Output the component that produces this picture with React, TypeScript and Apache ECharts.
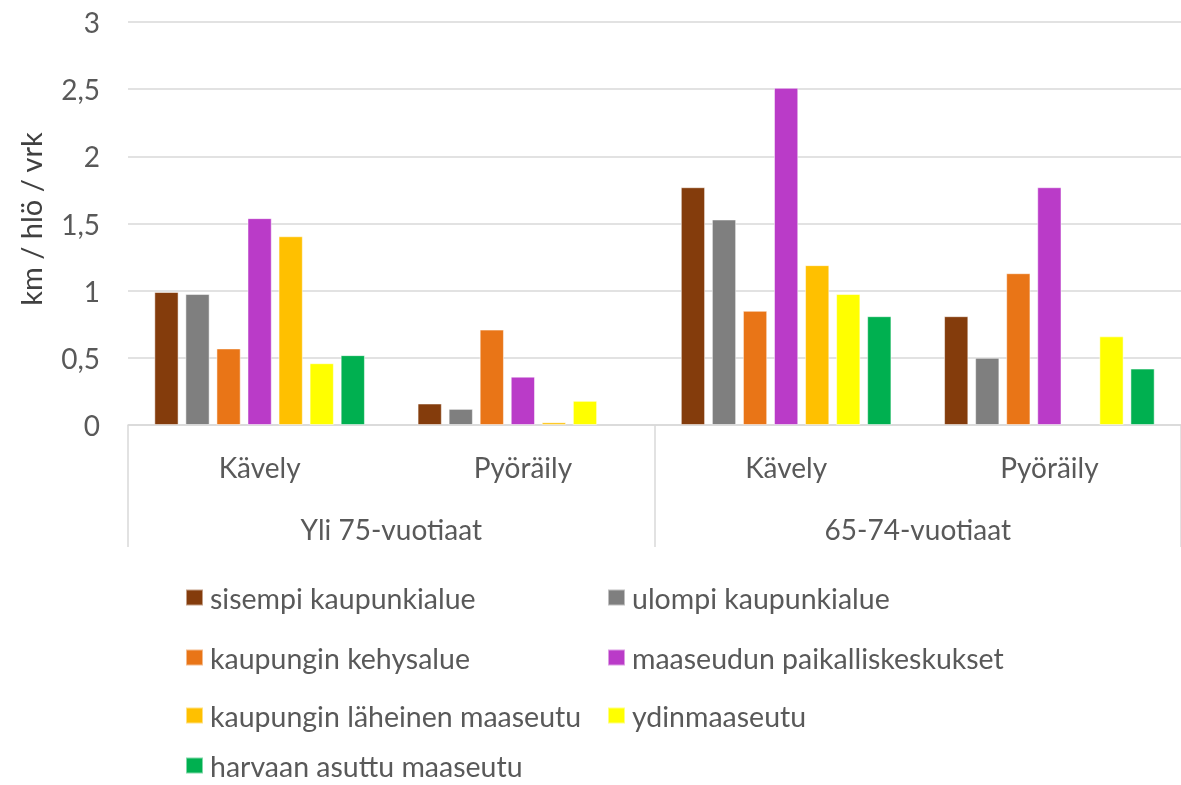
import React, { useEffect, useRef } from "react";
import * as echarts from "echarts";

const subCategories = ["Kävely", "Pyöräily", "Kävely", "Pyöräily"];
const groupCategories = ["Yli 75-vuotiaat", "65-74-vuotiaat"];
const yTicks = [0, 0.5, 1, 1.5, 2, 2.5, 3];

const seriesNames = [
  "sisempi kaupunkialue",
  "ulompi kaupunkialue",
  "kaupungin kehysalue",
  "maaseudun paikalliskeskukset",
  "kaupungin läheinen maaseutu",
  "ydinmaaseutu",
  "harvaan asuttu maaseutu",
];
const sisempi = [0.99, 0.16, 1.77, 0.81];
const ulompi = [0.975, 0.12, 1.53, 0.5];
const kehys = [0.57, 0.71, 0.85, 1.13];
const paikallis = [1.54, 0.36, 2.51, 1.77];
const laheinen = [1.405, 0.02, 1.19, null];
const ydin = [0.46, 0.18, 0.975, 0.66];
const harvaan = [0.52, null, 0.81, 0.42];
const seriesValues = [sisempi, ulompi, kehys, paikallis, laheinen, ydin, harvaan];
const colors = ["#843C0C", "#7F7F7F", "#E97517", "#BA3BC8", "#FFC000", "#FFFF00", "#00B050"];

const FONT = "Lato";
const TXT = "#595959";

export default function App() {
  const ref = useRef<HTMLDivElement>(null);
  useEffect(() => {
    document.body.style.margin = "0";
    const chart = echarts.init(ref.current!, null, { renderer: "svg" });
    const legendPos = [
      [185, 583],
      [607, 583],
      [185, 643],
      [607, 643],
      [185, 701],
      [607, 701],
      [185, 751],
    ];
    chart.setOption({
      animation: false,
      grid: { left: 128, right: -9, top: 22, bottom: 360, containLabel: false },
      xAxis: [
        {
          type: "category",
          data: subCategories,
          axisLine: { show: true, lineStyle: { color: "#d9d9d9", width: 1.5 } },
          axisTick: { show: false },
          axisLabel: { margin: 28, color: TXT, fontSize: 28, fontFamily: FONT },
        },
        {
          type: "category",
          data: groupCategories,
          position: "bottom",
          axisLine: { show: false },
          axisTick: { show: true, length: 122, interval: 0, lineStyle: { color: "#d9d9d9", width: 1.5 } },
          axisLabel: { margin: 90, color: TXT, fontSize: 28, fontFamily: FONT },
        },
      ],
      yAxis: {
        type: "value",
        min: yTicks[0],
        max: yTicks[yTicks.length - 1],
        interval: 0.5,
        axisLine: { show: false },
        axisTick: { show: false },
        splitLine: { lineStyle: { color: "#d9d9d9", width: 1.5 } },
        axisLabel: {
          margin: 28,
          color: TXT,
          fontSize: 28,
          fontFamily: FONT,
          formatter: (v: number) => String(v).replace(".", ","),
        },
      },
      legend: seriesNames.map((n, i) => ({
        data: [n],
        left: legendPos[i][0],
        top: legendPos[i][1],
        padding: 0,
        icon: "rect",
        itemWidth: 17,
        itemHeight: 16,
        selectedMode: false,
        textStyle: { color: TXT, fontSize: 28.5, lineHeight: 24, fontFamily: FONT, padding: [0, 0, 0, 2] },
      })),
      graphic: [
        {
          type: "text",
          x: 30,
          y: 219,
          rotation: Math.PI / 2,
          style: {
            text: "km / hlö / vrk",
            fill: "#404040",
            font: `29px ${FONT}`,
            align: "center",
            verticalAlign: "middle",
          },
        },
      ],
      series: seriesNames.map((n, i) => ({
        name: n,
        type: "bar",
        xAxisIndex: 0,
        data: seriesValues[i],
        barGap: "28%",
        barCategoryGap: "20%",
        itemStyle: { color: colors[i], borderColor: "rgba(255,255,255,0.5)", borderWidth: 1 },
      })),
    });
    return () => chart.dispose();
  }, []);
  return <div ref={ref} style={{ position: "fixed", left: 0, top: 0, width: 1181, height: 785 }} />;
}
